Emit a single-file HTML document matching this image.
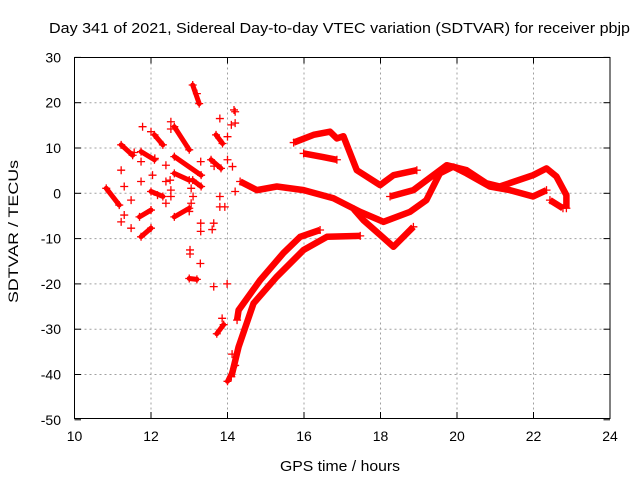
<!DOCTYPE html>
<html><head><meta charset="utf-8"><style>
body{margin:0;background:#fff;}
svg{display:block;font-family:"Liberation Sans",sans-serif;}
</style></head><body>
<svg id="chart" width="640" height="480">
<text x="49" y="33" font-size="15" textLength="581" lengthAdjust="spacingAndGlyphs">Day 341 of 2021, Sidereal Day-to-day VTEC variation (SDTVAR) for receiver pbjp</text>
<text x="280" y="471" font-size="15" textLength="120" lengthAdjust="spacingAndGlyphs">GPS time / hours</text>
<text x="18" y="303" font-size="14" textLength="143" lengthAdjust="spacingAndGlyphs" transform="rotate(-90 18 303)">SDTVAR / TECUs</text>
<g id="grid"></g><g id="marks"></g><g id="frame"></g>
</svg>
<script>
const xTicks=[10,12,14,16,18,20,22,24];
const yTicks=[30,20,10,0,-10,-20,-30,-40,-50];
// main tracks: [hour, TECU]
const trackA=[[14.33,2.6],[14.77,0.7],[15.29,1.5],[15.99,0.7],[16.77,-1.1],[17.47,-4.1],[18.08,-6.3],[18.77,-4.1],[19.2,-1.5],[19.55,4.4],[19.9,5.9],[20.25,4.4],[20.86,1.5],[21.38,0.7],[21.99,-0.7],[22.34,0.7]];
const trackB=[[17.3,-3.5],[17.55,-5.9],[18.34,-11.8],[18.86,-7.4]];
const trackC=[[15.73,11.2],[16.25,12.9],[16.68,13.6],[16.86,12.1],[17.03,12.6],[17.38,5.1],[17.99,1.8],[18.34,4.0],[18.95,5.1]];
const trackD=[[15.99,8.8],[16.5,8.0],[16.86,7.4]];
const trackE=[[18.25,-0.7],[18.86,0.7],[19.38,4.0],[19.73,6.2],[20.25,5.1],[20.77,2.2],[21.12,1.5],[21.99,4.0],[22.34,5.5],[22.6,3.7],[22.86,-0.4],[22.86,-3.3]];
const trackF=[[14.1,-40.5],[14.29,-33.9],[14.68,-24.3],[15.29,-18.4],[15.99,-12.5],[16.6,-9.6],[17.47,-9.4]];
const trackG=[[14.25,-28],[14.29,-25.8],[14.86,-19.1],[15.46,-13.2],[15.9,-9.6],[16.42,-8.1]];
const trackH=[[22.43,-1.5],[22.77,-3.3]];
// short scattered segments: [h1,v1,h2,v2]
const segs=[[13.09,23.9,13.26,19.8],[12.61,14.7,13.0,9.6],[12.09,12.9,12.31,10.7],[11.22,10.7,11.52,8.4],[11.74,9.2,12.09,7.4],[12.61,8.1,13.31,4.0],[12.61,4.4,13.0,2.9],[13.09,2.9,13.31,1.5],[10.83,1.1,11.17,-2.6],[12.0,0.4,12.31,-0.7],[11.7,-5.2,12.0,-3.7],[11.74,-9.6,12.0,-7.7],[12.61,-5.2,13.0,-3.3],[13.7,12.9,13.87,11.0],[13.57,7.4,13.83,5.5],[13.0,-18.8,13.2,-19],[13.72,-31,13.9,-29],[14.0,-41.5,14.2,-38]];
// isolated points
const pts=[[11.78,14.7],[12.52,15.8],[12.52,14.2],[12.0,13.6],[11.56,9.0],[11.22,5.1],[11.74,7.0],[12.1,7.7],[12.04,4.0],[11.74,2.6],[11.3,1.5],[12.39,6.2],[12.39,2.6],[12.5,2.9],[12.52,0.7],[12.17,-0.4],[12.52,-0.7],[12.39,-2.2],[13.05,1.1],[13.1,-0.7],[13.05,-2.2],[13.0,-4],[11.48,-1.5],[11.3,-4.8],[11.22,-6.3],[11.48,-7.7],[13.3,7.0],[13.3,-8.4],[13.6,-8],[13.02,-12.5],[13.02,-13.4],[13.8,16.5],[14.17,18.4],[14.1,15.1],[14.2,15.5],[14.0,12.5],[14.0,7.4],[14.13,5.9],[13.8,-0.7],[13.93,-3],[13.8,-3],[14.2,0.4],[13.65,6],[13.29,-15.5],[13.64,-20.6],[13.99,-20],[13.86,-27.6],[14.12,-35.5],[13.64,-6.6],[13.3,-6.6],[14.2,18],[13.2,22]];

const X=h=>74.5+(h-10)*(610-74.5)/14;
const Y=v=>193.3-v*4.53;
const NS='http://www.w3.org/2000/svg';
function mk(tag,parent){const e=document.createElementNS(NS,tag);parent.appendChild(e);return e;}
const grid=document.getElementById('grid'),marks=document.getElementById('marks'),frame=document.getElementById('frame');
xTicks.forEach(t=>{
 if(t>10&&t<24){const l=mk('line',grid);l.setAttribute('x1',X(t));l.setAttribute('x2',X(t));l.setAttribute('y1',57.5);l.setAttribute('y2',418.5);l.setAttribute('stroke','#a0a0a0');l.setAttribute('stroke-dasharray','2,3');
 
 }
 const tk=mk('text',frame);tk.setAttribute('x',X(t));tk.setAttribute('y',441);tk.setAttribute('font-size','14');tk.setAttribute('text-anchor','middle');tk.textContent=t;
 
 
 [[418.5,412],[57.5,63.5]].forEach(p=>{const m=mk('line',frame);m.setAttribute('x1',X(t));m.setAttribute('x2',X(t));m.setAttribute('y1',p[0]);m.setAttribute('y2',p[1]);m.setAttribute('stroke','#000');});
});
yTicks.forEach(t=>{
 if(t<30&&t>-50){const l=mk('line',grid);l.setAttribute('x1',74.5);l.setAttribute('x2',610);l.setAttribute('y1',Y(t));l.setAttribute('y2',Y(t));l.setAttribute('stroke','#a0a0a0');l.setAttribute('stroke-dasharray','2,3');
 
 }
 const tk=mk('text',frame);tk.setAttribute('x',61);tk.setAttribute('y',Y(t)+5);tk.setAttribute('font-size','14');tk.setAttribute('text-anchor','end');tk.textContent=t;
 
 
 [[74.5,81],[610,603.5]].forEach(p=>{const m=mk('line',frame);m.setAttribute('x1',p[0]);m.setAttribute('x2',p[1]);m.setAttribute('y1',Y(t));m.setAttribute('y2',Y(t));m.setAttribute('stroke','#000');});
});
const fr=mk('rect',frame);fr.setAttribute('x',74.5);fr.setAttribute('y',57.5);fr.setAttribute('width',535.5);fr.setAttribute('height',361);fr.setAttribute('fill','none');fr.setAttribute('stroke','#000');


function plus(h,v){const p=mk('path',marks);const x=X(h),y=Y(v);p.setAttribute('d',`M${x-4},${y}H${x+4}M${x},${y-4}V${y+4}`);p.setAttribute('stroke','#f00');p.setAttribute('stroke-width','1.3');
 
 }
[trackA,trackB,trackC,trackD,trackE,trackF,trackG,trackH].forEach((tr,i)=>{
 const pl=mk('polyline',marks);pl.setAttribute('points',tr.map(p=>X(p[0])+','+Y(p[1])).join(' '));pl.setAttribute('fill','none');pl.setAttribute('stroke','#f00');pl.setAttribute('stroke-width','6.5');pl.setAttribute('stroke-linejoin','round');
 
 
 plus(tr[0][0],tr[0][1]);plus(tr[tr.length-1][0],tr[tr.length-1][1]);
});
segs.forEach(s=>{
 const l=mk('line',marks);l.setAttribute('x1',X(s[0]));l.setAttribute('y1',Y(s[1]));l.setAttribute('x2',X(s[2]));l.setAttribute('y2',Y(s[3]));l.setAttribute('stroke','#f00');l.setAttribute('stroke-width','5');l.setAttribute('stroke-linecap','round');
 
 
 plus(s[0],s[1]);plus(s[2],s[3]);
});
pts.forEach(p=>plus(p[0],p[1]));
</script>
</body></html>
